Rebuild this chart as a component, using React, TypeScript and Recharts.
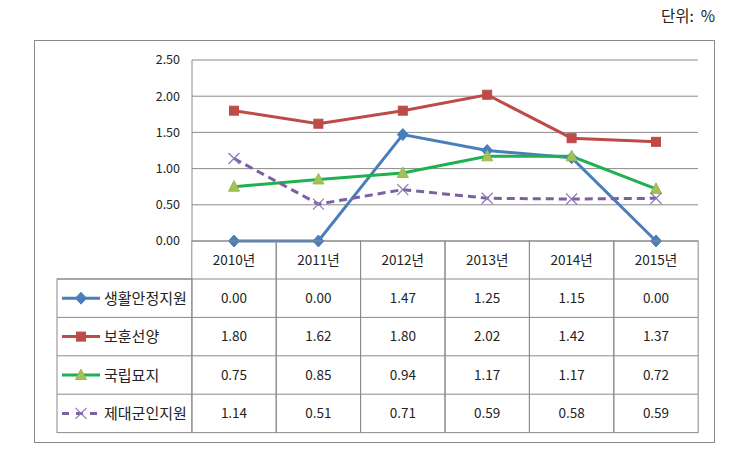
import React from 'react';
import { LineChart, Line, XAxis, YAxis, CartesianGrid } from 'recharts';

const years = ['2010년', '2011년', '2012년', '2013년', '2014년', '2015년'];
const livingSupport = [0.0, 0.0, 1.47, 1.25, 1.15, 0.0];
const honorPromotion = [1.8, 1.62, 1.8, 2.02, 1.42, 1.37];
const nationalCemetery = [0.75, 0.85, 0.94, 1.17, 1.17, 0.72];
const veteranSupport = [1.14, 0.51, 0.71, 0.59, 0.58, 0.59];
const yTicks = [0, 0.5, 1, 1.5, 2, 2.5];

type MarkerKind = 'diamond' | 'square' | 'triangle' | 'cross';

const series: {
  key: string;
  name: string;
  values: number[];
  color: string;
  dash?: string;
  marker: MarkerKind;
}[] = [
  { key: 'living', name: '생활안정지원', values: livingSupport, color: '#4a7ebb', marker: 'diamond' },
  { key: 'honor', name: '보훈선양', values: honorPromotion, color: '#be4b48', marker: 'square' },
  { key: 'cemetery', name: '국립묘지', values: nationalCemetery, color: '#1fb04f', marker: 'triangle' },
  { key: 'veteran', name: '제대군인지원', values: veteranSupport, color: '#7d60a0', dash: '8 5', marker: 'cross' },
];

const data = years.map((year, i) => {
  const row: Record<string, string | number> = { year };
  series.forEach((s) => {
    row[s.key] = s.values[i];
  });
  return row;
});

// table layout (drawn under the plot, same column grid as the x axis)
const TABLE_TOP = 241;
const HEADER_H = 38;
const ROW_H = 38.4;
const LEGEND_LEFT = 57;
const PLOT_LEFT = 192;
const BAND = 84.4;
const LINE_COLOR = '#8a8a8a';
const FONT = '"Noto Sans CJK KR", "Noto Sans", sans-serif';

function Marker({ kind, cx, cy }: { kind: MarkerKind; cx: number; cy: number }) {
  if (kind === 'diamond') {
    return (
      <path
        d={`M${cx},${cy - 6} L${cx + 5.5},${cy} L${cx},${cy + 6} L${cx - 5.5},${cy} Z`}
        fill="#4a7ebb"
        stroke="#4a7ebb"
      />
    );
  }
  if (kind === 'square') {
    return <rect x={cx - 4.5} y={cy - 4.5} width={9} height={9} fill="#be4b48" stroke="#be4b48" />;
  }
  if (kind === 'triangle') {
    return (
      <path
        d={`M${cx},${cy - 6} L${cx + 5.5},${cy + 4.5} L${cx - 5.5},${cy + 4.5} Z`}
        fill="#a3c253"
        stroke="#98b954"
      />
    );
  }
  return (
    <g stroke="#8a78b8" strokeWidth={1.2}>
      <line x1={cx - 5.5} y1={cy - 5.5} x2={cx + 5.5} y2={cy + 5.5} />
      <line x1={cx - 5.5} y1={cy + 5.5} x2={cx + 5.5} y2={cy - 5.5} />
    </g>
  );
}

function TableColumn(props: any) {
  const { x, payload } = props;
  const i = years.indexOf(payload.value);
  const left = x - BAND / 2;
  const bodyTop = TABLE_TOP + HEADER_H;
  const bottom = bodyTop + series.length * ROW_H;

  return (
    <g fontFamily={FONT}>
      <rect x={left} y={TABLE_TOP} width={BAND} height={bottom - TABLE_TOP} fill="none" stroke={LINE_COLOR} />
      {series.map((s, r) => (
        <line
          key={s.key}
          x1={left}
          x2={left + BAND}
          y1={bodyTop + r * ROW_H}
          y2={bodyTop + r * ROW_H}
          stroke={LINE_COLOR}
        />
      ))}
      <text x={x} y={TABLE_TOP + HEADER_H / 2 + 4.5} textAnchor="middle" fontSize={13.5} fill="#222">
        {payload.value}
      </text>
      {series.map((s, r) => (
        <text
          key={s.key}
          x={x}
          y={bodyTop + r * ROW_H + ROW_H / 2 + 4.5}
          textAnchor="middle"
          fontSize={13.5}
          fill="#222"
        >
          {s.values[i].toFixed(2)}
        </text>
      ))}
      {i === 0 && (
        <g>
          <rect
            x={LEGEND_LEFT}
            y={bodyTop}
            width={PLOT_LEFT - LEGEND_LEFT}
            height={bottom - bodyTop}
            fill="none"
            stroke={LINE_COLOR}
          />
          {series.map((s, r) => {
            const cy = bodyTop + r * ROW_H + ROW_H / 2;
            return (
              <g key={s.key}>
                <line x1={LEGEND_LEFT} x2={PLOT_LEFT} y1={bodyTop + r * ROW_H} y2={bodyTop + r * ROW_H} stroke={LINE_COLOR} />
                <line
                  x1={62}
                  x2={100}
                  y1={cy}
                  y2={cy}
                  stroke={s.color}
                  strokeWidth={3}
                  strokeDasharray={s.dash ? '7 7' : undefined}
                />
                <Marker kind={s.marker} cx={81} cy={cy} />
                <text x={104} y={cy + 5.5} fontSize={15} fill="#222">
                  {s.name}
                </text>
              </g>
            );
          })}
        </g>
      )}
    </g>
  );
}

export default function App() {
  return (
    <div style={{ position: 'absolute', left: 0, top: 0, width: 744, height: 457, background: '#fff' }}>
      <div
        style={{
          position: 'absolute',
          right: 29,
          top: 4,
          fontFamily: FONT,
          fontSize: 15.5,
          color: '#222',
          whiteSpace: 'pre',
        }}
      >
        {'단위:  %'}
      </div>
      <div
        style={{
          position: 'absolute',
          left: 34,
          top: 40,
          width: 679,
          height: 401,
          border: '1px solid #8a8a8a',
        }}
      />
      <div style={{ position: 'absolute', left: 0, top: 0 }}>
        <LineChart
          width={744}
          height={457}
          data={data}
          margin={{ top: 60, right: 46, bottom: 16, left: 132 }}
        >
          <CartesianGrid vertical={false} stroke="#8a8a8a" />
          <XAxis
            dataKey="year"
            height={200}
            interval={0}
            axisLine={false}
            tickLine={false}
            padding={{ left: 42, right: 42 }}
            tick={<TableColumn />}
          />
          <YAxis
            width={60}
            domain={[0, 2.5]}
            ticks={yTicks}
            tickFormatter={(v: number) => v.toFixed(2)}
            axisLine={{ stroke: '#8a8a8a' }}
            tickLine={false}
            tickSize={6}
            tickMargin={6}
            tick={{ fontSize: 12.5, fill: '#222', fontFamily: FONT }}
          />
          {series.map((s) => (
            <Line
              key={s.key}
              type="linear"
              dataKey={s.key}
              name={s.name}
              stroke={s.color}
              strokeWidth={3}
              strokeDasharray={s.dash}
              isAnimationActive={false}
              dot={(p: any) => <Marker key={`${s.key}-${p.index}`} kind={s.marker} cx={p.cx} cy={p.cy} />}
              activeDot={false}
            />
          ))}
        </LineChart>
      </div>
    </div>
  );
}
